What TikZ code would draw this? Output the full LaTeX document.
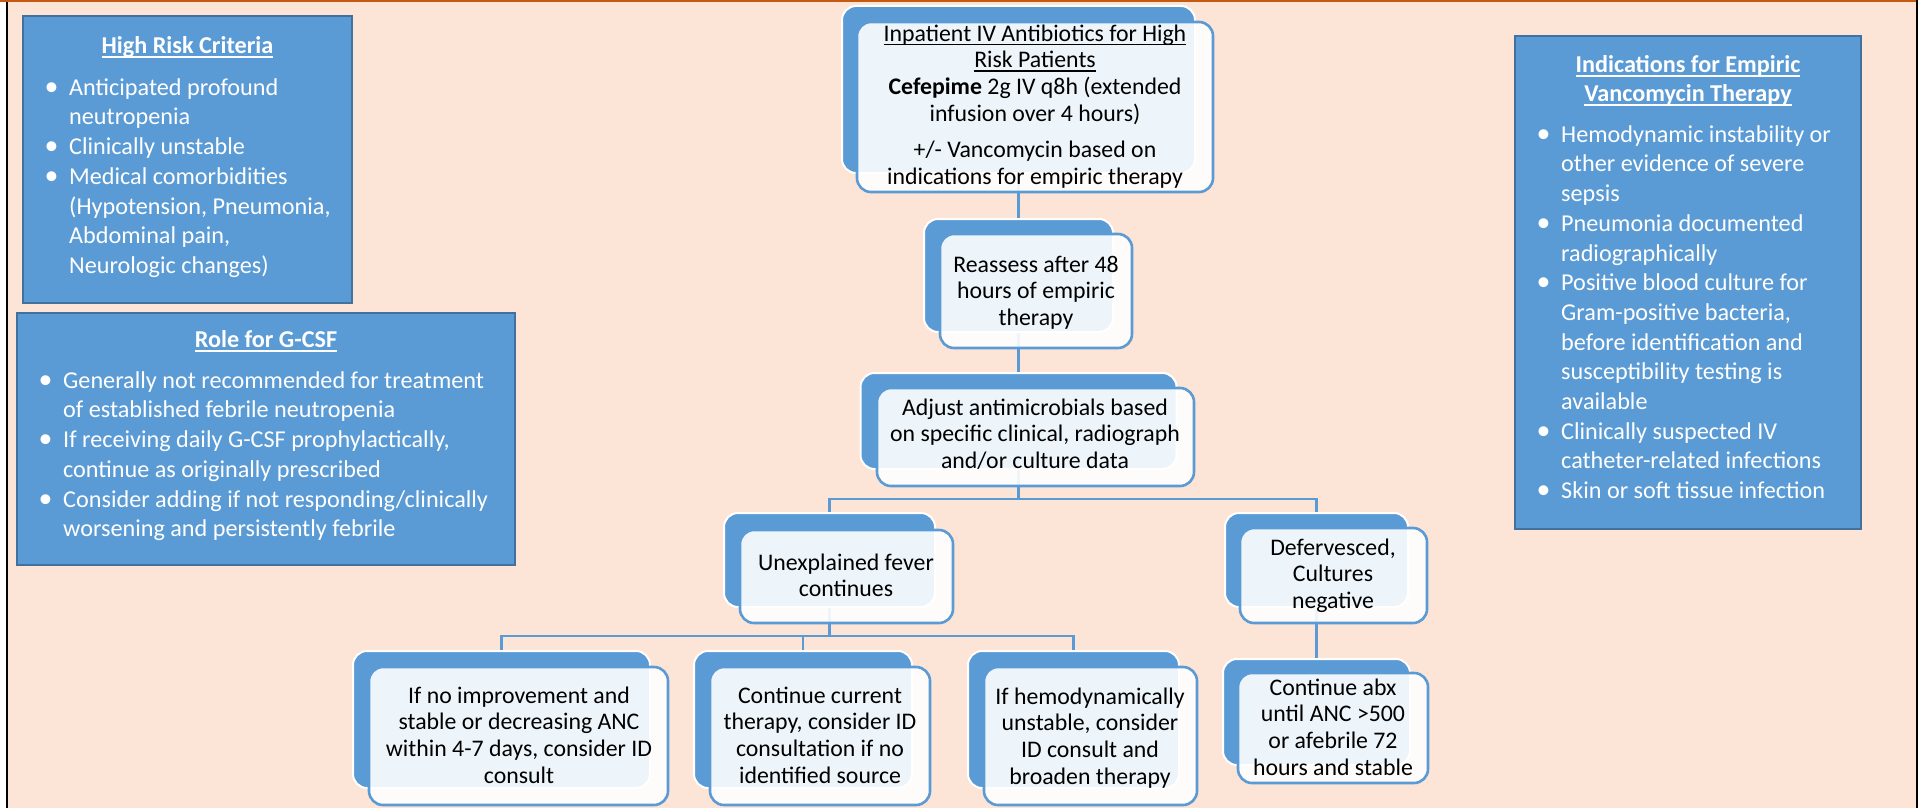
\documentclass[tikz,border=0pt]{standalone}
\usepackage{fontspec}
\setmainfont{Carlito}
\pgfdeclarelayer{bg}
\pgfdeclarelayer{lines}
\pgfsetlayers{bg,lines,main}
\definecolor{peach}{HTML}{FCE4D6}
\definecolor{accent}{HTML}{5B9BD5}
\definecolor{panelline}{HTML}{41719C}
\definecolor{topline}{HTML}{C55A11}
\newcommand\mystrutf{\rule{0pt}{19pt}}
\newcommand\mystrutp{\rule{0pt}{19.4pt}}
\newcommand\wul[1]{\setbox0\hbox{#1}\rlap{\rule[-4.8pt]{\wd0}{1.7pt}}\box0}
\newcommand\ful[1]{\setbox0\hbox{#1}\rlap{\rule[-3.6pt]{\wd0}{1.1pt}}\box0}
\newcommand\bitem[1]{\makebox[20pt][l]{\hspace*{-4.5pt}\scalebox{1.15}{\textbullet}}#1}
\newcommand\bcont[1]{\hspace*{20pt}#1}
\tikzset{
  panel/.style={draw=panelline, line width=2pt, fill=accent, inner sep=0pt},
  backbox/.style={draw=white, line width=2pt, fill=accent, rounded corners=14pt, inner sep=0pt},
  frontbox/.style={draw=accent, line width=2.6pt, fill=white, fill opacity=0.9, rounded corners=14pt, inner sep=0pt},
  conn/.style={draw=accent, line width=2.5pt},
  ftext/.style={inner sep=0pt, anchor=north, align=center, font=\fontsize{23.8}{26.7}\selectfont, text=black},
  ptitle/.style={inner sep=0pt, anchor=north, align=center, font=\fontsize{24.2}{29.2}\selectfont\bfseries, text=white},
  plist/.style={inner sep=0pt, anchor=north west, align=left, font=\fontsize{24.2}{29.7}\selectfont, text=white},
}
\begin{document}
\begin{tikzpicture}[x=1pt,y=-1pt]
\useasboundingbox (0,0) rectangle (1921,808);
\begin{pgfonlayer}{bg}
  \fill[white] (0,0) rectangle (1921,808);
  \fill[peach] (8,2) rectangle (1916,808);
  \fill[black] (6,2) rectangle (8,808);
  \fill[black] (1916,0) rectangle (1918,808);
  \fill[topline] (0,0) rectangle (1916,2);
\end{pgfonlayer}

% side panels
\node[panel, minimum width=329pt, minimum height=287pt] (hr) at (187.5,159.5) {};
\node[ptitle] (hrt) at (187.5,33.6) {\mystrutp\wul{High Risk Criteria}};
\node[plist] (hrl) at (49,75.6) {\bitem{\mystrutp Anticipated profound}\\
\bcont{neutropenia}\\
\bitem{Clinically unstable}\\
\bitem{Medical comorbidities}\\
\bcont{(Hypotension, Pneumonia,}\\
\bcont{Abdominal pain,}\\
\bcont{Neurologic changes)}};

\node[panel, minimum width=498pt, minimum height=252pt] (gc) at (266,439) {};
\node[ptitle] (gct) at (266,327.6) {\mystrutp\wul{Role for G-CSF}};
\node[plist] (gcl) at (43,368.6) {\bitem{\mystrutp Generally not recommended for treatment}\\
\bcont{of established febrile neutropenia}\\
\bitem{If receiving daily G-CSF prophylactically,}\\
\bcont{continue as originally prescribed}\\
\bitem{Consider adding if not responding/clinically}\\
\bcont{worsening and persistently febrile}};

\node[panel, minimum width=346pt, minimum height=493pt] (vi) at (1688,282.5) {};
\node[ptitle] (vit) at (1688,52.6) {\mystrutp\wul{Indications for Empiric}\\\wul{Vancomycin Therapy}};
\node[plist] (vil) at (1541,122.6) {\bitem{\mystrutp Hemodynamic instability or}\\
\bcont{other evidence of severe}\\
\bcont{sepsis}\\
\bitem{Pneumonia documented}\\
\bcont{radiographically}\\
\bitem{Positive blood culture for}\\
\bcont{Gram-positive bacteria,}\\
\bcont{before identification and}\\
\bcont{susceptibility testing is}\\
\bcont{available}\\
\bitem{Clinically suspected IV}\\
\bcont{catheter-related infections}\\
\bitem{Skin or soft tissue infection}};

% flowchart back boxes
\node[backbox, minimum width=353pt, minimum height=167pt] (n1b) at (1018.5,89.5) {};
\node[backbox, minimum width=189pt, minimum height=113pt] (n2b) at (1018.5,275.5) {};
\node[backbox, minimum width=316pt, minimum height=96pt] (n3b) at (1018.5,421) {};
\node[backbox, minimum width=211pt, minimum height=94pt] (n4b) at (829.5,560) {};
\node[backbox, minimum width=183pt, minimum height=94pt] (n5b) at (1316.5,560) {};
\node[backbox, minimum width=297pt, minimum height=137pt] (n6b) at (501.5,719.5) {};
\node[backbox, minimum width=218pt, minimum height=137pt] (n7b) at (803,719.5) {};
\node[backbox, minimum width=211pt, minimum height=137pt] (n8b) at (1073.5,719.5) {};
\node[backbox, minimum width=187pt, minimum height=106pt] (n9b) at (1316.5,712) {};

% connectors
\coordinate (br1) at (0,499);
\coordinate (br2) at (0,636);
\begin{pgfonlayer}{lines}
  \draw[conn] (n1b) -- (n2b);
  \draw[conn] (n2b) -- (n3b);
  \draw[conn] (n3b.south) -- (n3b.south |- br1) -| (n4b.north);
  \draw[conn] (n3b.south |- br1) -| (n5b.north);
  \draw[conn] (n4b.south) -- (n4b.south |- br2) -| (n6b.north);
  \draw[conn] (n4b.south |- br2) -| (n7b.north);
  \draw[conn] (n4b.south |- br2) -| (n8b.north);
  \draw[conn] (n5b) -- (n9b);
\end{pgfonlayer}

% front boxes
\node[frontbox, minimum width=356pt, minimum height=170pt] (n1f) at (1035,107) {};
\node[frontbox, minimum width=192pt, minimum height=114pt] (n2f) at (1036,291) {};
\node[frontbox, minimum width=317pt, minimum height=98pt] (n3f) at (1035.5,437) {};
\node[frontbox, minimum width=213pt, minimum height=93pt] (n4f) at (846.5,576.5) {};
\node[frontbox, minimum width=187pt, minimum height=95pt] (n5f) at (1333.5,575.5) {};
\node[frontbox, minimum width=299pt, minimum height=138pt] (n6f) at (518.5,736) {};
\node[frontbox, minimum width=220pt, minimum height=138pt] (n7f) at (820,736) {};
\node[frontbox, minimum width=213pt, minimum height=138pt] (n8f) at (1090.5,736) {};
\node[frontbox, minimum width=190pt, minimum height=110pt] (n9f) at (1333,728) {};

% flowchart texts
\node[ftext] (t1) at (1035,22) {\mystrutf\ful{Inpatient IV Antibiotics for High}\\
\ful{Risk Patients}\\
\textbf{Cefepime} 2g IV q8h (extended\\
infusion over 4 hours)\\[9.3pt]
+/- Vancomycin based on\\
indications for empiric therapy};
\node[ftext] (t2) at (1036,253) {\mystrutf Reassess after 48\\hours of empiric\\therapy};
\node[ftext] (t3) at (1035,396) {\mystrutf Adjust antimicrobials based\\on specific clinical, radiograph\\and/or culture data};
\node[ftext] (t4) at (846,551) {\mystrutf Unexplained fever\\continues};
\node[ftext] (t5) at (1333,536) {\mystrutf Defervesced,\\Cultures\\negative};
\node[ftext] (t6) at (519,684) {\mystrutf If no improvement and\\stable or decreasing ANC\\within 4-7 days, consider ID\\consult};
\node[ftext] (t7) at (820,684) {\mystrutf Continue current\\therapy, consider ID\\consultation if no\\identified source};
\node[ftext] (t8) at (1090,685) {\mystrutf If hemodynamically\\unstable, consider\\ID consult and\\broaden therapy};
\node[ftext] (t9) at (1333,676) {\mystrutf Continue abx\\until ANC >500\\or afebrile 72\\hours and stable};
\end{tikzpicture}
\end{document}
